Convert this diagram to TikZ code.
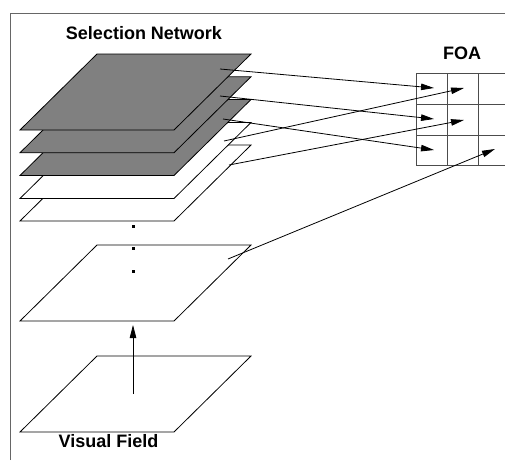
\documentclass[tikz,border=0pt]{standalone}
\usepackage{fontspec}
\setmainfont{Liberation Sans}
\usetikzlibrary{arrows.meta}
\tikzset{
  layer/.style={draw=black, line width=0.8pt, line join=miter},
  shaded/.style={layer, fill=black!50},
  plain/.style={layer, fill=white},
  conn/.style={line width=0.8pt, -{Triangle[length=13pt,width=6.5pt]}},
  lbl/.style={font=\fontsize{18}{20}\selectfont\bfseries, inner sep=0pt},
  gridline/.style={draw=black!70, line width=0.9pt},
  dotmark/.style={fill=black}
}
\newcommand{\plate}[2]{% style, top y
  \path[#1] (97,#2) -- (251,#2) -- (174,#2+76) -- (20,#2+76) -- cycle;}
\begin{document}
\begin{tikzpicture}[x=1pt,y=-1pt]
\useasboundingbox (0,0) rectangle (505,460);
% frame
\draw[black!60, line width=1pt] (10,460) -- (10,14) -- (505,14);
% layers (bottom first)
\plate{plain}{356}
\plate{plain}{245}
\plate{plain}{145}
\plate{plain}{122.5}
\plate{shaded}{99.5}
\plate{shaded}{76.75}
\plate{shaded}{54}
% dots
\foreach \yy in {226,248.5,271} \fill (131.5,\yy-1.5) rectangle (134.5,\yy+1.5);
% labels
\node[lbl] (sel) at (144,33) {Selection Network};
\node[lbl] (foa) at (462,53) {FOA};
\node[lbl] (vis) at (108.5,441.5) {Visual Field};
% FOA grid
\foreach \yy in {73,104,135,165} \draw[gridline] (416,\yy) -- (505,\yy);
\foreach \xx in {416,447,478} \draw[gridline] (\xx,73) -- (\xx,165);
% connector endpoints
\coordinate (s1) at (220,69);
\coordinate (s2) at (220,96);
\coordinate (s3) at (223,119);
\coordinate (s4) at (224,141);
\coordinate (s5) at (229,165);
\coordinate (s6) at (228,259);
\coordinate (t1) at (434,88);
\coordinate (t2) at (434,119);
\coordinate (t3) at (434,150);
\coordinate (t4) at (464,88);
\coordinate (t5) at (464,120);
\coordinate (t6) at (495,149);
\coordinate (vb) at (133,394);
\coordinate (vt) at (133,325);
\draw[conn] (s1) -- (t1);
\draw[conn] (s2) -- (t2);
\draw[conn] (s3) -- (t3);
\draw[conn] (s4) -- (t4);
\draw[conn] (s5) -- (t5);
\draw[conn] (s6) -- (t6);
\draw[conn] (vb) -- (vt);
\end{tikzpicture}
\end{document}
